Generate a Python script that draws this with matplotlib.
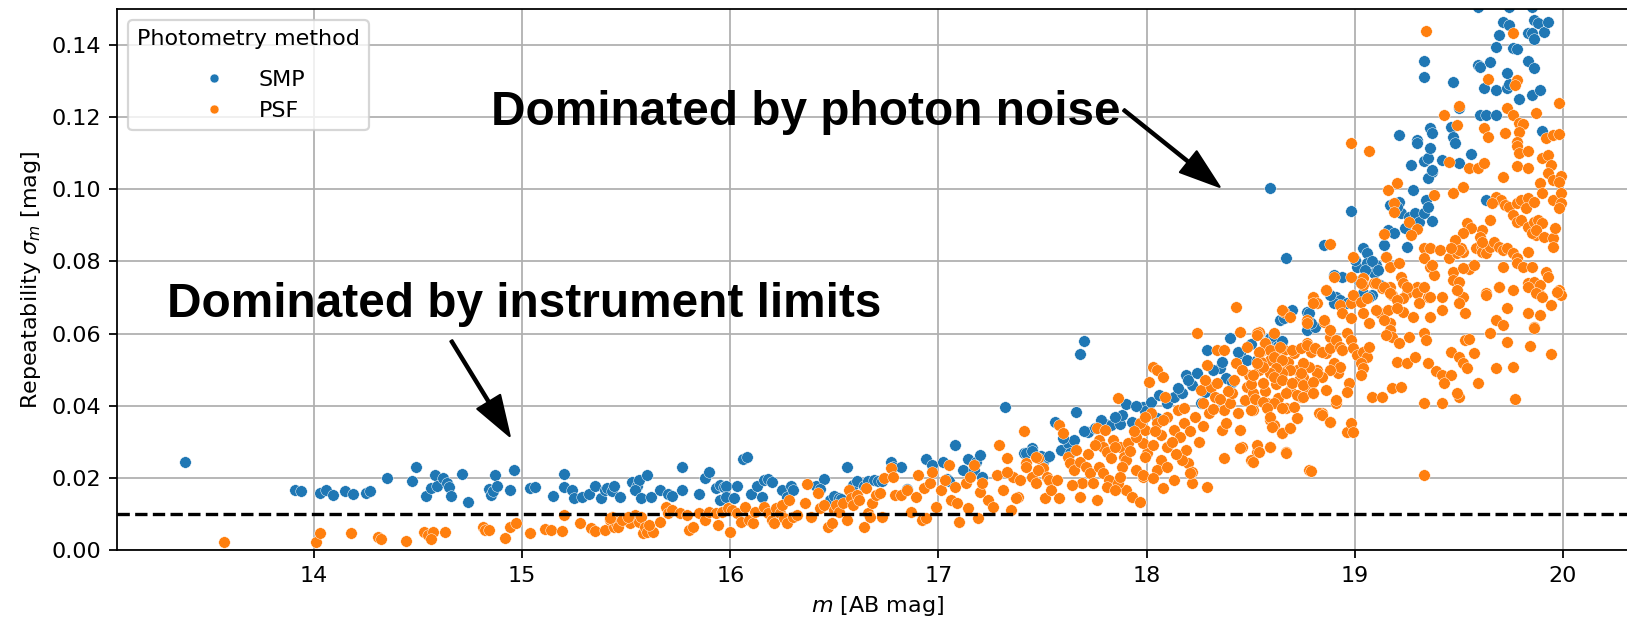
import numpy as np
import matplotlib
matplotlib.use("Agg")
import matplotlib.pyplot as plt
from matplotlib.lines import Line2D

# (magnitude, repeatability), per photometry method
SMP_POINTS = [
    (13.38, 0.0244),
    (13.91, 0.0166), (13.94, 0.0163), (14.03, 0.0158), (14.06, 0.0166), (14.09, 0.0152),
    (14.15, 0.0164), (14.19, 0.0154), (14.25, 0.0158), (14.27, 0.0163), (14.35, 0.0201),
    (14.47, 0.0190), (14.49, 0.0230), (14.54, 0.0150), (14.56, 0.0173), (14.58, 0.0207),
    (14.59, 0.0177), (14.62, 0.0199), (14.64, 0.0186), (14.65, 0.0176), (14.66, 0.0150),
    (14.71, 0.0212), (14.74, 0.0134), (14.84, 0.0170), (14.85, 0.0152), (14.86, 0.0163),
    (14.87, 0.0208), (14.88, 0.0178), (14.94, 0.0166), (14.96, 0.0221), (15.04, 0.0173),
    (15.06, 0.0175), (15.15, 0.0150), (15.20, 0.0211), (15.20, 0.0175), (15.24, 0.0166),
    (15.25, 0.0145), (15.29, 0.0147), (15.32, 0.0156), (15.35, 0.0177), (15.38, 0.0145),
    (15.40, 0.0166), (15.41, 0.0172), (15.43, 0.0164), (15.44, 0.0177), (15.47, 0.0147),
    (15.53, 0.0188), (15.55, 0.0177), (15.56, 0.0194), (15.54, 0.0166), (15.57, 0.0144),
    (15.60, 0.0208), (15.62, 0.0147), (15.66, 0.0166), (15.70, 0.0155), (15.72, 0.0150),
    (15.77, 0.0230), (15.77, 0.0166), (15.85, 0.0155), (15.88, 0.0200), (15.90, 0.0216),
    (15.93, 0.0172), (15.95, 0.0180), (15.97, 0.0176), (15.98, 0.0178), (15.95, 0.0138),
    (15.98, 0.0147), (16.03, 0.0177), (16.02, 0.0144), (16.06, 0.0252), (16.08, 0.0258),
    (16.10, 0.0155), (16.13, 0.0177), (16.16, 0.0194), (16.18, 0.0198), (16.20, 0.0188),
    (16.15, 0.0147), (16.25, 0.0166), (16.27, 0.0147), (16.29, 0.0177), (16.30, 0.0166),
    (16.41, 0.0177), (16.45, 0.0197), (16.43, 0.0170), (16.48, 0.0140), (16.50, 0.0150),
    (16.52, 0.0145), (16.53, 0.0142), (16.56, 0.0231), (16.59, 0.0180), (16.61, 0.0190),
    (16.64, 0.0178), (16.66, 0.0190), (16.69, 0.0194), (16.71, 0.0192), (16.73, 0.0190),
    (16.77, 0.0245), (16.78, 0.0230), (16.82, 0.0230), (16.85, 0.0170), (16.94, 0.0252),
    (16.97, 0.0236), (17.02, 0.0245), (17.04, 0.0197), (17.05, 0.0190), (17.08, 0.0290),
    (17.12, 0.0222), (17.14, 0.0252), (17.17, 0.0222), (17.18, 0.0244), (17.20, 0.0264),
    (17.21, 0.0202), (17.32, 0.0397), (17.41, 0.0270), (17.45, 0.0283), (17.50, 0.0245),
    (17.52, 0.0258), (17.42, 0.0270), (17.45, 0.0275), (17.49, 0.0260), (17.53, 0.0260),
    (17.56, 0.0355), (17.59, 0.0277), (17.62, 0.0297), (17.65, 0.0305), (17.63, 0.0270),
    (17.66, 0.0383), (17.68, 0.0544), (17.70, 0.0580), (17.72, 0.0327), (17.75, 0.0338),
    (17.80, 0.0350), (17.83, 0.0346), (17.87, 0.0350), (17.88, 0.0374), (17.90, 0.0405),
    (17.93, 0.0355), (17.98, 0.0397), (17.99, 0.0386), (18.05, 0.0366), (18.10, 0.0408),
    (18.13, 0.0424), (18.17, 0.0436), (18.19, 0.0486), (18.22, 0.0458), (18.26, 0.0408),
    (18.28, 0.0438), (18.29, 0.0555), (18.35, 0.0505), (18.38, 0.0477), (18.41, 0.0466),
    (18.40, 0.0588), (18.45, 0.0546), (18.48, 0.0527), (18.53, 0.0527), (18.54, 0.0602),
    (18.60, 0.0591), (18.62, 0.0574), (18.60, 0.0555), (18.61, 0.0535), (18.65, 0.0577),
    (18.59, 0.0588), (18.61, 0.0594), (18.63, 0.0566), (18.65, 0.0580), (18.64, 0.0638),
    (18.66, 0.0643), (18.70, 0.0666), (18.77, 0.0660), (18.78, 0.0657), (18.77, 0.0610),
    (18.81, 0.0619), (18.79, 0.0630), (18.67, 0.0810), (18.59, 0.1004), (18.85, 0.0846),
    (18.98, 0.0940), (18.90, 0.0763), (18.94, 0.0757), (18.91, 0.0702), (18.93, 0.0693),
    (18.90, 0.0685), (18.88, 0.0707), (18.96, 0.0685), (19.04, 0.0838), (19.06, 0.0824),
    (19.01, 0.0785), (19.06, 0.0796), (19.10, 0.0790), (19.09, 0.0768), (19.04, 0.0713),
    (19.08, 0.0707), (19.07, 0.0702), (19.14, 0.0846), (19.15, 0.0813), (19.16, 0.0888),
    (19.19, 0.0880), (19.21, 0.0965), (19.22, 0.0935), (19.20, 0.0951), (19.17, 0.0957),
    (19.24, 0.0893), (19.25, 0.0841), (19.28, 0.0999), (19.26, 0.0924), (19.29, 0.0935),
    (19.31, 0.0910), (19.33, 0.0935), (19.37, 0.0913), (19.34, 0.0970), (19.35, 0.0950),
    (19.21, 0.1151), (19.30, 0.1137), (19.30, 0.1129), (19.33, 0.1079), (19.35, 0.1087),
    (19.37, 0.1049), (19.35, 0.1032), (19.37, 0.1054), (19.36, 0.1115), (19.36, 0.1171),
    (19.37, 0.1157), (19.27, 0.1068), (19.33, 0.1356), (19.33, 0.1312), (19.47, 0.1298),
    (19.42, 0.1082), (19.46, 0.1173), (19.47, 0.1146), (19.48, 0.1129), (19.50, 0.1073),
    (19.50, 0.1226), (19.56, 0.1098), (19.60, 0.1207), (19.63, 0.1207), (19.68, 0.1207),
    (19.63, 0.0970), (19.59, 0.1346), (19.60, 0.1340), (19.65, 0.1354), (19.62, 0.1280),
    (19.68, 0.1276), (19.73, 0.1280), (19.74, 0.1293), (19.73, 0.1323), (19.68, 0.1396),
    (19.69, 0.1429), (19.71, 0.1465), (19.74, 0.1456), (19.76, 0.1393), (19.78, 0.1390),
    (19.79, 0.1251), (19.83, 0.1356), (19.83, 0.1434), (19.85, 0.1434), (19.86, 0.1418),
    (19.86, 0.1470), (19.88, 0.1462), (19.86, 0.1337), (19.85, 0.1262), (19.89, 0.1276),
    (19.91, 0.1437), (19.93, 0.1465), (19.90, 0.1162), (19.59, 0.1506), (19.74, 0.1506),
    (19.85, 0.1506),
    # upper edge of the dense band
    (17.60, 0.0310), (17.70, 0.0330), (17.78, 0.0360), (17.85, 0.0370), (17.95, 0.0400),
    (18.02, 0.0410), (18.06, 0.0430), (18.15, 0.0450), (18.20, 0.0470), (18.24, 0.0490),
    (18.32, 0.0500), (18.36, 0.0520), (18.44, 0.0550), (18.50, 0.0570), (19.00, 0.0805),
    (19.02, 0.0745), (19.05, 0.0775), (19.08, 0.0800), (19.11, 0.0775), (19.12, 0.0735),
]

PSF_POINTS = [
    (13.57, 0.0023), (14.01, 0.0023), (14.03, 0.0047), (14.18, 0.0047), (14.31, 0.0036),
    (14.32, 0.0030), (14.44, 0.0025), (14.53, 0.0050), (14.55, 0.0042), (14.57, 0.0050),
    (14.56, 0.0030), (14.63, 0.0050), (14.81, 0.0064), (14.82, 0.0055), (14.84, 0.0055),
    (14.92, 0.0033), (14.94, 0.0064), (14.97, 0.0075), (15.04, 0.0047), (15.11, 0.0058),
    (15.14, 0.0055), (15.19, 0.0053), (15.20, 0.0097), (15.28, 0.0075), (15.33, 0.0061),
    (15.35, 0.0053), (15.40, 0.0055), (15.42, 0.0083), (15.43, 0.0092), (15.44, 0.0064),
    (15.45, 0.0075), (15.49, 0.0083), (15.52, 0.0075), (15.54, 0.0097), (15.56, 0.0078),
    (15.58, 0.0047), (15.42, 0.0089), (15.46, 0.0064), (15.48, 0.0083), (15.51, 0.0092),
    (15.57, 0.0092), (15.59, 0.0064), (15.60, 0.0050), (15.63, 0.0050), (15.61, 0.0069),
    (15.66, 0.0078), (15.69, 0.0120), (15.70, 0.0103), (15.72, 0.0111), (15.76, 0.0103),
    (15.80, 0.0055), (15.82, 0.0064), (15.79, 0.0097), (15.85, 0.0103), (15.88, 0.0083),
    (15.90, 0.0105), (15.93, 0.0103), (15.94, 0.0069), (15.96, 0.0105), (15.99, 0.0117),
    (16.00, 0.0050), (16.01, 0.0111), (16.03, 0.0103), (16.05, 0.0078), (16.07, 0.0120),
    (16.09, 0.0083), (16.11, 0.0075), (16.12, 0.0105), (16.16, 0.0120), (16.18, 0.0103),
    (16.20, 0.0083), (16.21, 0.0075), (16.22, 0.0117), (16.24, 0.0103), (16.25, 0.0125),
    (16.26, 0.0089), (16.27, 0.0075), (16.28, 0.0139), (16.30, 0.0092), (16.32, 0.0097),
    (16.37, 0.0183), (16.36, 0.0130), (16.39, 0.0092), (16.42, 0.0158), (16.43, 0.0117),
    (16.45, 0.0125), (16.47, 0.0064), (16.49, 0.0075), (16.50, 0.0111), (16.51, 0.0125),
    (16.52, 0.0105), (16.54, 0.0130), (16.56, 0.0083), (16.57, 0.0166), (16.58, 0.0144),
    (16.59, 0.0125), (16.61, 0.0153), (16.62, 0.0139), (16.64, 0.0064), (16.65, 0.0172),
    (16.66, 0.0103), (16.67, 0.0092), (16.68, 0.0130), (16.70, 0.0153), (16.72, 0.0158),
    (16.73, 0.0092), (16.74, 0.0200), (16.77, 0.0227), (16.78, 0.0202), (16.79, 0.0153),
    (16.82, 0.0153), (16.85, 0.0166), (16.87, 0.0105), (16.89, 0.0147), (16.90, 0.0208),
    (16.92, 0.0083), (16.93, 0.0172), (16.94, 0.0089), (16.96, 0.0186), (16.97, 0.0216),
    (16.99, 0.0120), (17.01, 0.0166), (17.03, 0.0194), (17.05, 0.0236), (17.06, 0.0139),
    (17.08, 0.0175), (17.09, 0.0130), (17.10, 0.0078), (17.13, 0.0186), (17.14, 0.0117),
    (17.15, 0.0202), (17.17, 0.0236), (17.19, 0.0089), (17.20, 0.0161), (17.21, 0.0186),
    (17.24, 0.0139), (17.26, 0.0120), (17.28, 0.0208), (17.29, 0.0291), (17.31, 0.0166),
    (17.33, 0.0255), (17.35, 0.0111), (17.36, 0.0202), (17.38, 0.0147), (17.41, 0.0330),
    (17.39, 0.0194), (17.42, 0.0241), (17.45, 0.0202), (17.47, 0.0186), (17.48, 0.0255),
    (17.50, 0.0227), (17.51, 0.0144), (17.52, 0.0202), (17.33, 0.0216), (17.37, 0.0144),
    (17.42, 0.0230), (17.48, 0.0222), (17.53, 0.0194), (17.54, 0.0166), (17.58, 0.0144),
    (17.47, 0.0258), (17.57, 0.0194), (17.58, 0.0347), (17.60, 0.0325), (17.62, 0.0258),
    (17.63, 0.0241), (17.65, 0.0222), (17.66, 0.0277), (17.68, 0.0244), (17.71, 0.0230),
    (17.73, 0.0213), (17.69, 0.0186), (17.64, 0.0180), (17.68, 0.0147), (17.76, 0.0139),
    (17.74, 0.0186), (17.76, 0.0338), (17.80, 0.0333), (17.77, 0.0305), (17.79, 0.0286),
    (17.81, 0.0272), (17.84, 0.0305), (17.86, 0.0422), (17.87, 0.0286), (17.89, 0.0258),
    (17.90, 0.0250), (17.88, 0.0230), (17.91, 0.0297), (17.77, 0.0230), (17.79, 0.0213),
    (17.82, 0.0194), (17.81, 0.0175), (17.90, 0.0166), (17.93, 0.0147), (17.95, 0.0222),
    (17.97, 0.0133), (17.98, 0.0202), (18.00, 0.0269), (18.01, 0.0466), (18.03, 0.0508),
    (18.05, 0.0499), (18.08, 0.0480), (18.02, 0.0380), (18.05, 0.0352), (18.07, 0.0319),
    (18.09, 0.0424), (18.10, 0.0369), (18.10, 0.0286), (18.13, 0.0333), (18.15, 0.0388),
    (18.16, 0.0313), (18.18, 0.0352), (18.19, 0.0277), (18.20, 0.0241), (18.22, 0.0216),
    (18.22, 0.0186), (18.17, 0.0250), (18.07, 0.0250), (18.05, 0.0222), (18.10, 0.0230),
    (18.13, 0.0194), (17.99, 0.0258), (17.98, 0.0297), (17.99, 0.0333), (17.97, 0.0352),
    (17.95, 0.0313), (17.99, 0.0369), (18.24, 0.0602), (18.26, 0.0444), (18.27, 0.0408),
    (18.29, 0.0513), (18.30, 0.0380), (18.31, 0.0452), (18.33, 0.0424), (18.34, 0.0463),
    (18.37, 0.0388), (18.36, 0.0333), (18.38, 0.0352), (18.40, 0.0408), (18.41, 0.0436),
    (18.43, 0.0519), (18.44, 0.0380), (18.45, 0.0333), (18.46, 0.0286), (18.47, 0.0416),
    (18.48, 0.0452), (18.49, 0.0486), (18.51, 0.0388), (18.51, 0.0436), (18.54, 0.0605),
    (18.54, 0.0499), (18.56, 0.0555), (18.56, 0.0463), (18.58, 0.0408), (18.59, 0.0360),
    (18.61, 0.0347), (18.63, 0.0422), (18.64, 0.0472), (18.65, 0.0508), (18.66, 0.0555),
    (18.67, 0.0394), (18.69, 0.0444), (18.70, 0.0463), (18.72, 0.0499), (18.74, 0.0424),
    (18.75, 0.0480), (18.77, 0.0574), (18.77, 0.0452), (18.79, 0.0549), (18.80, 0.0436),
    (18.82, 0.0499), (18.84, 0.0380), (18.86, 0.0546), (18.88, 0.0591), (18.90, 0.0519),
    (18.91, 0.0408), (18.92, 0.0491), (18.94, 0.0555), (18.96, 0.0602), (18.97, 0.0463),
    (18.96, 0.0327), (18.43, 0.0674), (18.80, 0.0702), (18.82, 0.0685), (18.86, 0.0721),
    (18.85, 0.0632), (18.77, 0.0632), (18.66, 0.0660), (18.45, 0.0605), (18.48, 0.0563),
    (18.53, 0.0602), (18.57, 0.0574), (18.54, 0.0546), (18.59, 0.0527), (18.62, 0.0555),
    (18.65, 0.0527), (18.34, 0.0555), (18.37, 0.0555), (18.61, 0.0602), (18.78, 0.0222),
    (18.83, 0.0380), (18.88, 0.0355), (18.65, 0.0325), (18.69, 0.0338), (18.72, 0.0366),
    (18.67, 0.0272), (18.53, 0.0272), (18.59, 0.0286), (18.50, 0.0250), (18.45, 0.0283),
    (18.37, 0.0255), (18.29, 0.0175), (18.21, 0.0213), (17.98, 0.0208), (18.03, 0.0200),
    (18.08, 0.0172), (17.86, 0.0186), (17.85, 0.0166), (17.87, 0.0202),
    # dense band fill, 17.6 - 18.6
    (17.72, 0.0265), (17.75, 0.0290), (17.83, 0.0255), (17.85, 0.0285), (17.92, 0.0275),
    (17.94, 0.0330), (18.03, 0.0290), (18.04, 0.0330), (18.08, 0.0360), (18.12, 0.0300),
    (18.14, 0.0265), (18.18, 0.0395), (18.21, 0.0330), (18.23, 0.0370), (18.25, 0.0300),
    (18.27, 0.0345), (18.28, 0.0470), (18.32, 0.0390), (18.35, 0.0420), (18.39, 0.0440),
    (18.42, 0.0470), (18.46, 0.0500), (18.50, 0.0460), (18.52, 0.0420), (18.55, 0.0520),
    (18.57, 0.0440), (18.62, 0.0460), (18.68, 0.0520), (18.71, 0.0545), (18.73, 0.0470),
    (19.34, 0.1440), (18.98, 0.1129), (19.07, 0.1107), (19.43, 0.1207), (19.50, 0.1232),
    (19.49, 0.1179), (19.45, 0.1076), (19.55, 0.1060), (19.59, 0.1060), (19.62, 0.1073),
    (19.62, 0.1171), (19.64, 0.1146), (19.64, 0.1307), (19.76, 0.1434), (19.78, 0.1304),
    (19.77, 0.1290), (19.73, 0.1226), (19.76, 0.1207), (19.79, 0.1185), (19.81, 0.1180),
    (19.79, 0.1160), (19.72, 0.1157), (19.78, 0.1132), (19.78, 0.1120), (19.79, 0.1101),
    (19.83, 0.1107), (19.78, 0.1065), (19.83, 0.1060), (19.71, 0.1035), (19.87, 0.1212),
    (19.98, 0.1240), (19.92, 0.1143), (19.95, 0.1151), (19.98, 0.1154), (19.90, 0.1087),
    (19.93, 0.1096), (19.94, 0.1068), (19.93, 0.1046), (19.95, 0.1026), (19.99, 0.1037),
    (19.98, 0.1021), (19.89, 0.1018), (19.90, 0.0990), (19.95, 0.0971), (19.99, 0.0990),
    (19.99, 0.0963), (19.98, 0.0949), (19.20, 0.1018), (19.16, 0.0999), (19.19, 0.0963),
    (19.19, 0.0938), (19.38, 0.0985), (19.47, 0.0990), (19.52, 0.1007), (19.26, 0.0910),
    (19.30, 0.0890), (19.27, 0.0874), (19.14, 0.0877), (18.88, 0.0849), (18.99, 0.0813),
    (19.15, 0.0813), (18.86, 0.0721), (18.90, 0.0757), (18.98, 0.0757), (19.04, 0.0754),
    (19.04, 0.0735), (19.09, 0.0741), (19.13, 0.0727), (19.17, 0.0785), (19.21, 0.0796),
    (19.17, 0.0730), (19.22, 0.0757), (19.23, 0.0741), (19.28, 0.0721), (19.25, 0.0713),
    (19.30, 0.0730), (19.36, 0.0785), (19.38, 0.0763), (19.33, 0.0838), (19.36, 0.0838),
    (19.41, 0.0832), (19.45, 0.0810), (19.33, 0.0810), (19.47, 0.0772), (19.47, 0.0749),
    (19.50, 0.0743), (19.49, 0.0824), (19.52, 0.0827), (19.51, 0.0838), (19.55, 0.0779),
    (19.57, 0.0790), (19.60, 0.0846), (19.58, 0.0838), (19.61, 0.0841), (19.61, 0.0827),
    (19.63, 0.0824), (19.65, 0.0841), (19.67, 0.0854), (19.69, 0.0841), (19.71, 0.0832),
    (19.73, 0.0838), (19.76, 0.0824), (19.78, 0.0810), (19.78, 0.0796), (19.81, 0.0785),
    (19.85, 0.0785), (19.83, 0.0741), (19.86, 0.0743), (19.89, 0.0735), (19.92, 0.0772),
    (19.93, 0.0757), (19.98, 0.0721), (19.99, 0.0707), (19.89, 0.0707), (19.83, 0.0827),
    (19.87, 0.0874), (19.68, 0.0979), (19.70, 0.0971), (19.72, 0.0957), (19.74, 0.0951),
    (19.66, 0.0963), (19.78, 0.0963), (19.80, 0.0971), (19.83, 0.0976), (19.82, 0.0949),
    (19.86, 0.0965), (19.76, 0.0929), (19.78, 0.0910), (19.80, 0.0915), (19.83, 0.0896),
    (19.86, 0.0910), (19.88, 0.0915), (19.90, 0.0907), (19.85, 0.0879), (19.87, 0.0888),
    (19.91, 0.0868), (19.95, 0.0865), (19.96, 0.0893), (19.95, 0.0841), (19.65, 0.0915),
    (19.61, 0.0888), (19.60, 0.0868), (19.61, 0.0854), (19.54, 0.0907), (19.56, 0.0893),
    (19.52, 0.0879), (19.48, 0.0860), (19.50, 0.0832), (19.46, 0.0838), (19.52, 0.0782),
    (19.37, 0.0790), (19.18, 0.0707), (19.23, 0.0699), (19.30, 0.0713), (19.35, 0.0702),
    (19.42, 0.0702), (19.49, 0.0721), (19.52, 0.0702), (19.63, 0.0713), (19.69, 0.0730),
    (19.71, 0.0785), (19.76, 0.0721),
    (18.80, 0.0685), (18.93, 0.0680), (18.98, 0.0685), (18.99, 0.0707), (19.03, 0.0688),
    (19.06, 0.0699), (19.03, 0.0741), (19.10, 0.0741), (19.14, 0.0730), (19.17, 0.0713),
    (19.20, 0.0693), (19.25, 0.0730), (19.33, 0.0730), (19.36, 0.0702), (18.65, 0.0666),
    (18.69, 0.0646), (18.77, 0.0638), (18.77, 0.0630), (18.85, 0.0638), (18.88, 0.0610),
    (18.94, 0.0657), (18.98, 0.0643), (19.04, 0.0657), (19.07, 0.0630), (19.12, 0.0657),
    (19.16, 0.0666), (19.17, 0.0630), (19.23, 0.0660), (19.28, 0.0646), (19.31, 0.0685),
    (19.36, 0.0646), (19.42, 0.0666), (19.49, 0.0721), (19.50, 0.0685), (19.53, 0.0657),
    (19.63, 0.0707), (19.69, 0.0730), (19.83, 0.0730), (19.87, 0.0713), (19.90, 0.0702),
    (19.97, 0.0716), (19.89, 0.0652), (19.83, 0.0657), (19.68, 0.0638), (19.71, 0.0624),
    (19.73, 0.0671), (19.86, 0.0619), (19.94, 0.0680), (19.65, 0.0602),
    (18.53, 0.0596), (18.57, 0.0574), (18.59, 0.0555), (18.54, 0.0549), (18.61, 0.0535),
    (18.64, 0.0563), (18.65, 0.0527), (18.70, 0.0555), (18.74, 0.0560), (18.77, 0.0569),
    (18.81, 0.0560), (18.84, 0.0549), (18.88, 0.0560), (18.91, 0.0583), (18.93, 0.0563),
    (18.94, 0.0555), (18.98, 0.0583), (18.99, 0.0560), (19.01, 0.0541), (19.04, 0.0549),
    (19.06, 0.0535), (19.07, 0.0563), (19.03, 0.0519), (18.93, 0.0508), (18.88, 0.0499),
    (18.84, 0.0480), (18.82, 0.0491), (18.78, 0.0508), (18.75, 0.0519), (18.74, 0.0491),
    (18.69, 0.0499), (18.65, 0.0491), (18.62, 0.0505), (18.59, 0.0491), (18.56, 0.0508),
    (18.53, 0.0519), (18.51, 0.0486), (18.56, 0.0463), (18.61, 0.0480), (18.65, 0.0472),
    (18.70, 0.0463), (18.75, 0.0458), (18.80, 0.0466), (18.67, 0.0436), (18.72, 0.0430),
    (18.75, 0.0424), (18.80, 0.0436), (18.86, 0.0444), (18.91, 0.0416), (18.96, 0.0438),
    (19.04, 0.0505), (19.03, 0.0486), (18.50, 0.0388), (18.56, 0.0411), (18.61, 0.0408),
    (18.58, 0.0394), (18.65, 0.0394), (18.71, 0.0397), (18.84, 0.0374), (18.88, 0.0355),
    (18.98, 0.0352), (18.99, 0.0327), (18.59, 0.0369), (18.60, 0.0341), (18.65, 0.0325),
    (18.69, 0.0338), (18.72, 0.0366), (18.53, 0.0291), (18.54, 0.0272), (18.59, 0.0286),
    (18.67, 0.0269), (18.51, 0.0244), (18.79, 0.0219),
    (19.08, 0.0424), (19.13, 0.0424), (19.18, 0.0449), (19.22, 0.0452), (19.33, 0.0408),
    (19.42, 0.0408), (19.50, 0.0424), (19.49, 0.0436), (19.59, 0.0463), (19.77, 0.0419),
    (19.68, 0.0505), (19.76, 0.0508), (19.73, 0.0577), (19.84, 0.0566), (19.94, 0.0544),
    (19.86, 0.0616), (19.33, 0.0208), (19.20, 0.0522), (19.25, 0.0519), (19.29, 0.0535),
    (19.35, 0.0519), (19.39, 0.0497), (19.42, 0.0486), (19.46, 0.0486), (19.43, 0.0463),
    (19.46, 0.0549), (19.50, 0.0535), (19.52, 0.0519), (19.54, 0.0505), (19.57, 0.0546),
    (19.53, 0.0583), (19.55, 0.0585), (19.33, 0.0602), (19.34, 0.0583), (19.26, 0.0591),
    (19.20, 0.0671), (19.10, 0.0666), (19.14, 0.0638), (19.17, 0.0610), (19.18, 0.0591),
    (19.15, 0.0596), (19.21, 0.0574),
]

X_TICKS = [14, 15, 16, 17, 18, 19, 20]
Y_TICKS = [0.00, 0.02, 0.04, 0.06, 0.08, 0.10, 0.12, 0.14]
FLOOR = 0.01

SMP_COLOR = "#1f77b4"
PSF_COLOR = "#ff7f0e"

smp = np.array(SMP_POINTS)
psf = np.array(PSF_POINTS)

fig = plt.figure(figsize=(1627 / 160, 620 / 160), dpi=160)
ax = fig.add_axes([0.0719, 0.1129, 0.9355, 0.8726])
ax.set_axisbelow(True)
ax.grid(True, color="#b0b0b0", lw=0.8)

ax.scatter(smp[:, 0], smp[:, 1], s=27, color=SMP_COLOR, edgecolors="white", linewidths=0.2)
ax.scatter(psf[:, 0], psf[:, 1], s=27, color=PSF_COLOR, edgecolors="white", linewidths=0.2)
ax.axhline(FLOOR, color="black", ls="--", lw=1.5)

ax.set_xlim(13.054, 20.365)
ax.set_ylim(0, 0.15)
ax.set_xticks(X_TICKS)
ax.set_yticks(Y_TICKS)
ax.yaxis.set_major_formatter(matplotlib.ticker.FormatStrFormatter("%.2f"))
ax.set_xlabel("$m$ [AB mag]")
ax.set_ylabel(r"Repeatability $\sigma_m$ [mag]")

# annotations
note_font = dict(family=["Liberation Sans", "DejaVu Sans"], weight="bold", size=21.5)
arrow = dict(facecolor="black", edgecolor="black", width=1, headwidth=12, headlength=18, shrink=0)
ax.text(13.294, 0.0646, "Dominated by instrument limits", ha="left", va="baseline", **note_font)
ax.annotate("", xy=(14.94, 0.0316), xytext=(14.66, 0.058), arrowprops=arrow)
ax.text(14.85, 0.1179, "Dominated by photon noise", ha="left", va="baseline", **note_font)
ax.annotate("", xy=(18.35, 0.1007), xytext=(17.89, 0.122), arrowprops=arrow)

handles = [
    Line2D([0], [0], marker="o", ls="none", color=SMP_COLOR, markersize=4,
           markeredgecolor="white", markeredgewidth=0.2, label="SMP"),
    Line2D([0], [0], marker="o", ls="none", color=PSF_COLOR, markersize=4,
           markeredgecolor="white", markeredgewidth=0.2, label="PSF"),
]
leg = ax.legend(handles=handles, title="Photometry method", loc="upper left",
                handletextpad=1.0)
leg._legend_box.sep = 9.5  # extra room under the title

fig.savefig("out.png", dpi=160)
